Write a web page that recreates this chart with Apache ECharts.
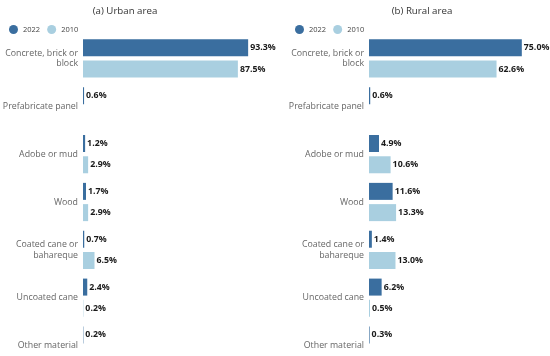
<!DOCTYPE html>
<html><head><meta charset="utf-8">
<script src="https://cdn.jsdelivr.net/npm/echarts@6/dist/echarts.min.js"></script>
<style>html,body{margin:0;padding:0;background:#fff}#c{width:550px;height:356px}</style>
</head><body><div id="c"></div>
<script>
const categories = ['Concrete, brick or\nblock', 'Prefabricate panel', 'Adobe or mud', 'Wood', 'Coated cane or\nbahareque', 'Uncoated cane', 'Other material'];
const urban2022 = [93.3, 0.6, 1.2, 1.7, 0.7, 2.4, 0.2];
const urban2010 = [87.5, null, 2.9, 2.9, 6.5, 0.2, null];
const rural2022 = [75.0, 0.6, 4.9, 11.6, 1.4, 6.2, 0.3];
const rural2010 = [62.6, null, 10.6, 13.3, 13.0, 0.5, null];
const seriesNames = ['2022', '2010'];
const panelTitles = ['(a) Urban area', '(b) Rural area'];

const C22 = '#3a6e9f', C10 = '#a9cfe0';
const FONT = 'Open Sans';
const chart = echarts.init(document.getElementById('c'), null, {renderer: 'canvas'});
const lbl = {show: true, position: 'right', distance: 2, fontFamily: FONT, fontSize: 8.8, fontWeight: 'bold', color: '#1a1a1a',
  formatter: p => (p.value == null ? '' : Number(p.value).toFixed(1) + '%')};
function mk(name, data, idx, color) {
  return {name, type: 'bar', data, xAxisIndex: idx, yAxisIndex: idx, barWidth: 17, barGap: '25%',
    itemStyle: {color}, label: lbl, emphasis: {disabled: true}, silent: true};
}
const yAx = idx => ({type: 'category', gridIndex: idx, data: categories, inverse: true,
  axisLine: {show: false}, axisTick: {show: false},
  axisLabel: {fontFamily: FONT, fontSize: 8.8, color: '#666', margin: 5, lineHeight: 10.5}});
const xAx = (idx, max) => ({type: 'value', gridIndex: idx, min: 0, max, show: false});
chart.setOption({
  animation: false,
  textStyle: {fontFamily: FONT},
  title: [
    {text: panelTitles[0], left: 120, top: 1, textAlign: 'center', textStyle: {fontFamily: FONT, fontSize: 9.7, fontWeight: 'normal', color: '#333'}},
    {text: panelTitles[1], left: 417, top: 1, textAlign: 'center', textStyle: {fontFamily: FONT, fontSize: 9.7, fontWeight: 'normal', color: '#333'}}
  ],
  legend: [
    {data: seriesNames, left: 4, top: 20, icon: 'circle', itemWidth: 9, itemHeight: 9, itemGap: 7,
      textStyle: {fontFamily: FONT, fontSize: 7.5, color: '#444'}, selectedMode: false},
    {data: seriesNames, left: 290, top: 20, icon: 'circle', itemWidth: 9, itemHeight: 9, itemGap: 7,
      textStyle: {fontFamily: FONT, fontSize: 7.5, color: '#444'}, selectedMode: false}
  ],
  grid: [
    {left: 83, width: 177, top: 34.5, height: 335, outerBoundsMode: 'none', containLabel: false},
    {left: 369, width: 163, top: 34.5, height: 335, outerBoundsMode: 'none', containLabel: false}
  ],
  xAxis: [xAx(0, 100), xAx(1, 80)],
  yAxis: [yAx(0), yAx(1)],
  series: [
    mk(seriesNames[0], urban2022, 0, C22),
    mk(seriesNames[1], urban2010, 0, C10),
    mk(seriesNames[0], rural2022, 1, C22),
    mk(seriesNames[1], rural2010, 1, C10)
  ]
});
</script></body></html>
